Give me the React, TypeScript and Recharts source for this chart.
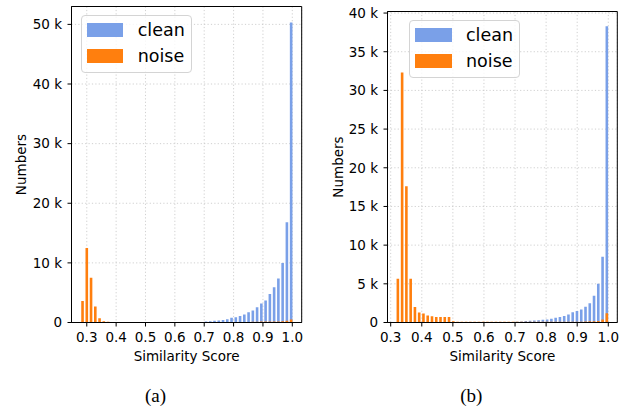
import React from "react";
import {
  BarChart,
  Bar,
  XAxis,
  YAxis,
  CartesianGrid,
  ReferenceArea,
  Legend,
} from "recharts";

// bin centres
const binsA = [
  0.285, 0.2995, 0.314, 0.3285, 0.343, 0.3575, 0.372, 0.3865, 0.401, 0.4155,
  0.43, 0.4445, 0.459, 0.4735, 0.488, 0.5025, 0.517, 0.5315, 0.546, 0.5605,
  0.575, 0.5895, 0.604, 0.6185, 0.633, 0.6475, 0.662, 0.6765, 0.691, 0.7055,
  0.72, 0.7345, 0.749, 0.7635, 0.778, 0.7925, 0.807, 0.8215, 0.836, 0.8505,
  0.865, 0.8795, 0.894, 0.9085, 0.923, 0.9375, 0.952, 0.9665, 0.981, 0.9955,
];
const cleanA = [
  0, 0, 0, 0, 0, 0, 0, 0, 0, 0,
  0, 0, 0, 0, 0, 0, 0, 0, 0, 0,
  20, 20, 20, 20, 20, 20, 40, 60, 100, 150,
  220, 280, 350, 440, 550, 780, 900, 1100, 1330, 1700,
  2000, 2550, 3200, 3700, 4800, 5900, 7400, 10000, 16800, 50300,
];
const noiseA = [
  3600, 12500, 7500, 2700, 700, 200, 120, 100, 80, 80,
  80, 80, 80, 80, 80, 80, 80, 80, 80, 80,
  80, 80, 80, 80, 80, 80, 80, 80, 80, 100,
  100, 100, 100, 100, 100, 100, 100, 100, 100, 100,
  120, 130, 150, 150, 150, 150, 180, 200, 280, 500,
];

const binsB = [
  0.3225, 0.3362, 0.3499, 0.3637, 0.3774, 0.3911, 0.4048, 0.4185, 0.4323, 0.446,
  0.4597, 0.4734, 0.4871, 0.5009, 0.5146, 0.5283, 0.542, 0.5557, 0.5695, 0.5832,
  0.5969, 0.6106, 0.6243, 0.6381, 0.6518, 0.6655, 0.6792, 0.6929, 0.7067, 0.7204,
  0.7341, 0.7478, 0.7615, 0.7753, 0.789, 0.8027, 0.8164, 0.8301, 0.8439, 0.8576,
  0.8713, 0.885, 0.8987, 0.9125, 0.9262, 0.9399, 0.9536, 0.9673, 0.9811, 0.9948,
];
const cleanB = [
  20, 20, 20, 20, 20, 20, 20, 20, 20, 20,
  20, 20, 20, 50, 50, 50, 50, 50, 50, 50,
  60, 60, 60, 60, 70, 70, 80, 80, 100, 140,
  180, 220, 260, 300, 350, 400, 500, 600, 700, 850,
  1030, 1330, 1500, 1670, 2050, 2500, 3450, 5000, 8500, 38300,
];
const noiseB = [
  5650, 32300, 17600, 5650, 2000, 1300, 1150, 900, 800, 700,
  700, 700, 700, 150, 100, 100, 100, 100, 100, 100,
  100, 100, 100, 100, 100, 100, 100, 100, 100, 100,
  100, 100, 100, 100, 100, 100, 100, 100, 100, 100,
  100, 100, 100, 100, 120, 150, 150, 200, 400, 1200,
];

const xTicks = [0.3, 0.4, 0.5, 0.6, 0.7, 0.8, 0.9, 1.0];
const yTicksA = [0, 10000, 20000, 30000, 40000, 50000];
const yTicksB = [0, 5000, 10000, 15000, 20000, 25000, 30000, 35000, 40000];

const CLEAN = "#7aa0e8";
const NOISE = "#ff7f0e";
const FONT = "'DejaVu Sans', sans-serif";
const FS = 13.5;

const kFormat = (v: number) => (v === 0 ? "0" : `${v / 1000} k`);

function YLabel({ viewBox, dx }: any) {
  const x = viewBox.x + dx;
  const y = viewBox.y + viewBox.height / 2;
  return (
    <text
      x={x}
      y={y}
      transform={`rotate(-90 ${x} ${y})`}
      textAnchor="middle"
      fontFamily={FONT}
      fontSize={FS}
      fill="#000"
    >
      Numbers
    </text>
  );
}

function XLabel({ viewBox }: any) {
  return (
    <text
      x={viewBox.x + viewBox.width / 2}
      y={viewBox.y + 38.2}
      textAnchor="middle"
      fontFamily={FONT}
      fontSize={FS}
      fill="#000"
    >
      Similarity Score
    </text>
  );
}

function LegendBox({ payload }: any) {
  return (
    <div
      style={{
        position: "relative",
        width: 111,
        height: 57.5,
        boxSizing: "border-box",
        border: "1px solid #d4d4d4",
        borderRadius: 4,
        background: "rgba(255,255,255,0.8)",
        fontFamily: FONT,
        fontSize: 17.5,
      }}
    >
      {(payload || []).map((p: any, i: number) => (
        <React.Fragment key={p.value}>
          <div
            style={{
              position: "absolute",
              left: 5,
              top: 7 + i * 26,
              width: 36.6,
              height: 13.7,
              background: p.color,
            }}
          />
          <span
            style={{
              position: "absolute",
              left: 56,
              top: 6 + i * 25.6,
              lineHeight: "17px",
              color: "#000",
              whiteSpace: "nowrap",
            }}
          >
            {p.value}
          </span>
        </React.Fragment>
      ))}
    </div>
  );
}

type PanelProps = {
  bins: number[];
  clean: number[];
  noise: number[];
  xDomain: [number, number];
  yMax: number;
  yTicks: number[];
  margin: { top: number; right: number; bottom: number; left: number };
  legendAt: { left: number; top: number };
  labelDx: number;
};

function Panel({ bins, clean, noise, xDomain, yMax, yTicks, margin, legendAt, labelDx }: PanelProps) {
  const data = bins.map((x, i) => ({ x, clean: clean[i], noise: noise[i] }));
  const tickStyle = { fill: "#000", fontSize: FS, fontFamily: FONT };
  return (
    <BarChart width={312} height={370} data={data} margin={margin}>
      <CartesianGrid strokeDasharray="1.2 2.2" stroke="#c4c4c4" strokeWidth={0.8} />
      <XAxis
        dataKey="x"
        type="number"
        domain={xDomain}
        ticks={xTicks}
        allowDataOverflow
        tickFormatter={(v: number) => v.toFixed(1)}
        tick={tickStyle}
        tickSize={4}
        tickMargin={6}
        height={47.5}
        stroke="#000"
        label={<XLabel />}
      />
      <XAxis xAxisId="n" dataKey="x" type="number" domain={xDomain} allowDataOverflow hide />
      <YAxis
        type="number"
        domain={[0, yMax]}
        ticks={yTicks}
        allowDataOverflow
        tickFormatter={kFormat}
        tick={tickStyle}
        tickSize={4}
        tickMargin={5.5}
        width={60}
        stroke="#000"
        label={<YLabel dx={labelDx} />}
      />
      <Legend
        layout="vertical"
        align="center"
        verticalAlign="middle"
        content={<LegendBox />}
        wrapperStyle={{ left: legendAt.left, top: legendAt.top, width: "auto", height: "auto", right: "auto", bottom: "auto" }}
      />
      <Bar dataKey="clean" name="clean" fill={CLEAN} barSize={2.6} isAnimationActive={false} />
      <Bar dataKey="noise" name="noise" xAxisId="n" fill={NOISE} barSize={2.6} isAnimationActive={false} />
      <ReferenceArea x1={xDomain[0]} x2={xDomain[1]} y1={0} y2={yMax} fill="none" stroke="#000" strokeWidth={1} />
    </BarChart>
  );
}

export default function App() {
  const caption: React.CSSProperties = {
    position: "absolute",
    top: 386,
    width: 60,
    textAlign: "center",
    fontFamily: "'Liberation Serif', serif",
    fontSize: 19,
    lineHeight: "19px",
    color: "#000",
  };
  return (
    <div style={{ position: "absolute", left: 0, top: 0, width: 624, height: 406, background: "#fff" }}>
      <div style={{ position: "absolute", left: 0, top: 0 }}>
        <Panel
          bins={binsA}
          clean={cleanA}
          noise={noiseA}
          xDomain={[0.248, 1.032]}
          yMax={53000}
          yTicks={yTicksA}
          margin={{ top: 6.5, right: 10.3, bottom: 0, left: 11.5 }}
          legendAt={{ left: 80.7, top: 15 }}
          labelDx={14.5}
        />
      </div>
      <div style={{ position: "absolute", left: 312, top: 0 }}>
        <Panel
          bins={binsB}
          clean={cleanB}
          noise={noiseB}
          xDomain={[0.2897, 1.029]}
          yMax={40200}
          yTicks={yTicksB}
          margin={{ top: 11.5, right: 6.7, bottom: 0, left: 15.5 }}
          legendAt={{ left: 97, top: 20 }}
          labelDx={15.2}
        />
      </div>
      <div style={{ ...caption, left: 125.5 }}>(a)</div>
      <div style={{ ...caption, left: 441.3 }}>(b)</div>
    </div>
  );
}
